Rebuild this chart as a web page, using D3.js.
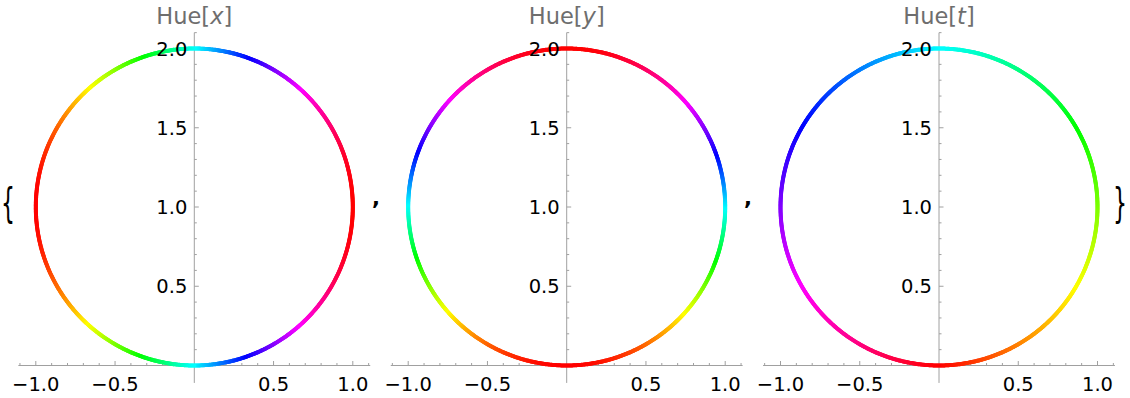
<!DOCTYPE html>
<html>
<head>
<meta charset="utf-8">
<script src="https://cdn.jsdelivr.net/npm/d3@7"></script>
<style>
  body { margin: 0; background: #fff; }
  svg text { font-family: "DejaVu Sans", sans-serif; }
</style>
</head>
<body>
<div id="chart"></div>
<script>
let width = 1130,
    height = 398;

// three panels: ParametricPlot of {Sin[t], 1 - Cos[t]}, coloured by Hue of x, y or t
let hueVars = ["x", "y", "t"];
let panelOrigins = [194.3, 566.7, 939];   // pixel x of the y axis in each panel

// circle being plotted
let circleCenter = [0, 1];
let circleRadius = 1;
let nSamples = 720;

// ticks
let xMajor = [-1, -0.5, 0.5, 1];
let xMajorLabels = ["\u22121.0", "\u22120.5", "0.5", "1.0"];
let xMinor = [-1.1, -0.9, -0.8, -0.7, -0.6, -0.4, -0.3, -0.2, -0.1,
              0.1, 0.2, 0.3, 0.4, 0.6, 0.7, 0.8, 0.9, 1.1];
let yMajor = [0.5, 1, 1.5, 2];
let yMajorLabels = ["0.5", "1.0", "1.5", "2.0"];
let yMinor = [0.1, 0.2, 0.3, 0.4, 0.6, 0.7, 0.8, 0.9, 1.1, 1.2, 1.3, 1.4,
              1.6, 1.7, 1.8, 1.9, 2.1];
let xExtent = [-1.11, 1.11];
let yExtent = [-0.11, 2.1];

let axisColor = '#a0a0a0';
let pxPerUnit = 158.5;

let svg = d3.select("#chart")
    .append("svg")
    .attr("width", width)
    .attr("height", height);

// sample the curve parameter
let ts = d3.range(nSamples + 1).map(i => 2 * Math.PI * i / nSamples);
let pts = ts.map(t => ({
    t: t,
    x: circleCenter[0] + circleRadius * Math.sin(t),
    y: circleCenter[1] - circleRadius * Math.cos(t)
}));

function drawPanel(idx) {
    let x0 = panelOrigins[idx];
    let v = hueVars[idx];

    let x = d3.scaleLinear()
        .domain([-1, 1])
        .range([x0 - pxPerUnit, x0 + pxPerUnit]);
    let y = d3.scaleLinear()
        .domain([0, 2])
        .range([365.5, 365.5 - 2 * pxPerUnit]);

    let g = svg.append("g");

    // axes
    g.append("line")
        .attr("x1", x(xExtent[0])).attr("x2", x(xExtent[1]))
        .attr("y1", y(0)).attr("y2", y(0))
        .style("stroke", axisColor);
    g.append("line")
        .attr("x1", x(0)).attr("x2", x(0))
        .attr("y1", y(yExtent[0])).attr("y2", y(yExtent[1]))
        .style("stroke", axisColor);

    g.selectAll(".xminor").data(xMinor).enter().append("line")
        .attr("x1", d => x(d)).attr("x2", d => x(d))
        .attr("y1", y(0)).attr("y2", y(0) - 2.5)
        .style("stroke", axisColor);
    g.selectAll(".xmajor").data(xMajor).enter().append("line")
        .attr("x1", d => x(d)).attr("x2", d => x(d))
        .attr("y1", y(0)).attr("y2", y(0) - 4.5)
        .style("stroke", axisColor);
    g.selectAll(".yminor").data(yMinor).enter().append("line")
        .attr("x1", x(0)).attr("x2", x(0) + 2.5)
        .attr("y1", d => y(d)).attr("y2", d => y(d))
        .style("stroke", axisColor);
    g.selectAll(".ymajor").data(yMajor).enter().append("line")
        .attr("x1", x(0)).attr("x2", x(0) + 4.5)
        .attr("y1", d => y(d)).attr("y2", d => y(d))
        .style("stroke", axisColor);

    // the coloured circle
    let range = d3.extent(pts, p => p[v]);
    let norm = d3.scaleLinear().domain(range).range([0, 1]);
    let segs = d3.pairs(pts);
    g.selectAll(".seg").data(segs).enter().append("line")
        .attr("x1", d => x(d[0].x)).attr("y1", d => y(d[0].y))
        .attr("x2", d => x(d[1].x)).attr("y2", d => y(d[1].y))
        .style("stroke", d => d3.hsl(360 * norm((d[0][v] + d[1][v]) / 2), 1, 0.5))
        .style("stroke-width", 4)
        .style("stroke-linecap", "round");

    // tick labels
    g.selectAll(".xlab").data(xMajor).enter().append("text")
        .attr("x", d => x(d))
        .attr("y", 391)
        .attr("text-anchor", "middle")
        .style("font-size", "19.5px")
        .text((d, i) => xMajorLabels[i]);
    g.selectAll(".ylab").data(yMajor).enter().append("text")
        .attr("x", x(0) - 7)
        .attr("y", d => y(d))
        .attr("dy", "0.36em")
        .attr("text-anchor", "end")
        .style("font-size", "19.5px")
        .text((d, i) => yMajorLabels[i]);

    // title
    let title = g.append("text")
        .attr("x", x0)
        .attr("y", 24)
        .attr("text-anchor", "middle")
        .style("font-size", "22.5px")
        .style("fill", "#6e6e6e");
    title.append("tspan").text("Hue[");
    title.append("tspan").style("font-style", "italic").text(v);
    title.append("tspan").text("]");
}

hueVars.forEach((v, i) => drawPanel(i));

// list braces and commas
svg.append("text")
    .attr("transform", "translate(1,217) scale(1.05,1.95)")
    .style("font-size", "21px")
    .text("{");
svg.append("text")
    .attr("transform", "translate(1113,217) scale(1.05,1.95)")
    .style("font-size", "21px")
    .text("}");
[376, 748].forEach(cx => {
    svg.append("text")
        .attr("x", cx)
        .attr("y", 205)
        .attr("text-anchor", "middle")
        .style("font-size", "21px")
        .style("font-weight", "bold")
        .text(",");
});
</script>
</body>
</html>
